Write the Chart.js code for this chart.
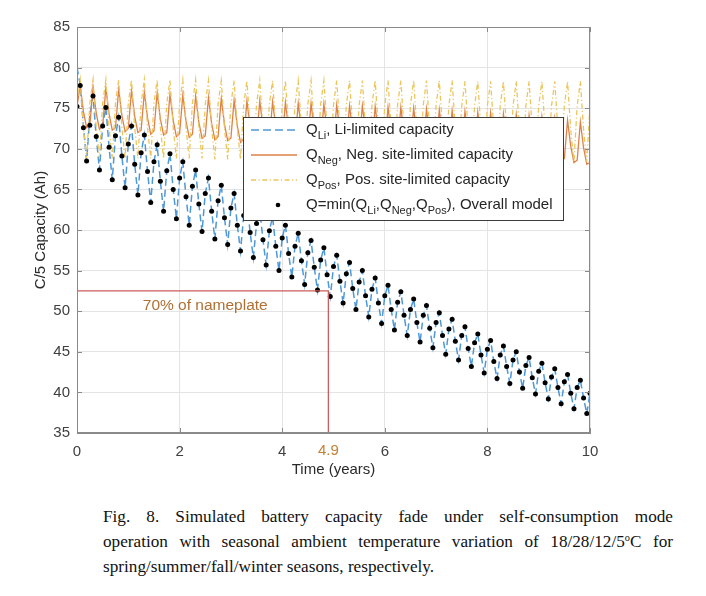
<!DOCTYPE html>
<html>
<head>
<meta charset="utf-8">
<script src="https://cdn.jsdelivr.net/npm/chart.js@4.4.1/dist/chart.umd.min.js"></script>
<style>
  html, body { margin: 0; padding: 0; background: #fff; }
  #wrap { position: absolute; left: 0; top: 0; width: 706px; height: 490px; }
  #cap { position: absolute; left: 103px; top: 504px; width: 570px;
         font-family: "Liberation Serif", "Times New Roman", serif; font-size: 17.2px;
         line-height: 25px; color: #111; }
  #cap .j { display: block; text-align: justify; text-align-last: justify; white-space: nowrap; }
  #cap .l { display: block; text-align: left; }
  #cap sup { font-size: 0.6em; vertical-align: 0.6em; line-height: 0; }
</style>
</head>
<body>
<div id="wrap"><canvas id="c" width="706" height="490"></canvas></div>
<div id="cap">
  <span class="j">Fig. 8. Simulated battery capacity fade under self-consumption mode</span>
  <span class="j">operation with seasonal ambient temperature variation of 18/28/12/5<sup>o</sup>C for</span>
  <span class="l">spring/summer/fall/winter seasons, respectively.</span>
</div>
<script>
// ---------------- data ----------------
const timeYears = [
0,0.0625,0.125,0.1875,0.25,0.3125,0.375,0.4375,0.5,0.5625,0.625,0.6875,0.75,0.8125,0.875,0.9375,
1,1.0625,1.125,1.1875,1.25,1.3125,1.375,1.4375,1.5,1.5625,1.625,1.6875,1.75,1.8125,1.875,1.9375,
2,2.0625,2.125,2.1875,2.25,2.3125,2.375,2.4375,2.5,2.5625,2.625,2.6875,2.75,2.8125,2.875,2.9375,
3,3.0625,3.125,3.1875,3.25,3.3125,3.375,3.4375,3.5,3.5625,3.625,3.6875,3.75,3.8125,3.875,3.9375,
4,4.0625,4.125,4.1875,4.25,4.3125,4.375,4.4375,4.5,4.5625,4.625,4.6875,4.75,4.8125,4.875,4.9375,
5,5.0625,5.125,5.1875,5.25,5.3125,5.375,5.4375,5.5,5.5625,5.625,5.6875,5.75,5.8125,5.875,5.9375,
6,6.0625,6.125,6.1875,6.25,6.3125,6.375,6.4375,6.5,6.5625,6.625,6.6875,6.75,6.8125,6.875,6.9375,
7,7.0625,7.125,7.1875,7.25,7.3125,7.375,7.4375,7.5,7.5625,7.625,7.6875,7.75,7.8125,7.875,7.9375,
8,8.0625,8.125,8.1875,8.25,8.3125,8.375,8.4375,8.5,8.5625,8.625,8.6875,8.75,8.8125,8.875,8.9375,
9,9.0625,9.125,9.1875,9.25,9.3125,9.375,9.4375,9.5,9.5625,9.625,9.6875,9.75,9.8125,9.875,9.9375,
10];

const qLi = [
80.0,77.9,72.8,68.5, 74.1,76.5,71.5,67.4, 72.8,75.1,70.2,66.2, 71.6,73.9,69.1,65.2,
70.6,72.8,68.1,64.3, 69.5,71.7,67.2,63.4, 68.4,70.5,66.0,62.3, 67.3,69.4,65.0,61.4,
66.4,68.4,64.1,60.6, 65.4,67.4,63.2,59.8, 64.5,66.4,62.3,58.9, 63.6,65.5,61.5,58.2,
62.7,64.5,60.6,57.4, 61.8,63.5,59.7,56.6, 60.8,62.5,58.8,55.7, 59.9,61.6,58.0,55.0,
59.0,60.6,57.1,54.2, 58.0,59.6,56.2,53.3, 57.2,58.7,55.4,52.6, 56.3,57.8,54.5,51.8,
55.5,56.9,53.7,51.0, 54.6,56.0,52.8,50.2, 53.6,55.0,51.9,49.3, 52.7,54.1,51.0,48.5,
51.9,53.2,50.2,47.7, 51.1,52.4,49.5,47.0, 50.2,51.5,48.6,46.2, 49.5,50.7,47.9,45.5,
48.6,49.8,47.0,44.7, 47.8,49.0,46.3,44.0, 47.0,48.1,45.4,43.2, 46.1,47.2,44.6,42.4,
45.3,46.4,43.8,41.7, 44.6,45.7,43.2,41.1, 44.0,45.0,42.5,40.5, 43.3,44.3,41.8,39.8,
42.6,43.6,41.2,39.2, 41.9,42.9,40.6,38.6, 41.3,42.2,39.9,38.0, 40.6,41.5,39.3,37.4,
39.9];

const qNeg = [
75.2,77.8,74.6,72.6, 72.9,77.6,74.4,72.4, 72.8,77.5,74.3,72.3, 72.6,77.3,74.1,72.1,
72.5,77.2,74.0,72.0, 72.3,77.0,73.8,71.8, 72.2,76.9,73.7,71.7, 72.0,76.7,73.5,71.5,
71.9,76.6,73.4,71.4, 71.8,76.5,73.3,71.3, 71.6,76.3,73.1,71.1, 71.5,76.2,73.0,71.0,
71.3,76.0,72.8,70.8, 71.2,75.9,72.7,70.7, 71.2,75.9,72.7,70.7, 71.1,75.8,72.6,70.6,
71.0,75.7,72.5,70.5, 70.9,75.6,72.4,70.4, 70.9,75.6,72.4,70.4, 70.8,75.5,72.3,70.3,
70.7,75.4,72.2,70.2, 70.6,75.3,72.1,70.1, 70.6,75.3,72.1,70.1, 70.5,75.2,72.0,70.0,
70.4,75.1,71.9,69.9, 70.4,75.1,71.9,69.9, 70.3,75.0,71.8,69.8, 70.2,74.9,71.7,69.7,
70.1,74.8,71.6,69.6, 70.0,74.7,71.5,69.5, 69.9,74.6,71.4,69.4, 69.8,74.5,71.3,69.3,
69.7,74.4,71.2,69.2, 69.6,74.3,71.1,69.1, 69.5,74.2,71.0,69.0, 69.4,74.1,70.9,68.9,
69.2,73.9,70.7,68.7, 69.0,73.7,70.5,68.5, 68.8,73.5,70.3,68.3, 68.6,73.3,70.1,68.1,
68.3];

const qPos = [
75.6,78.5,72.6,68.8, 75.6,78.5,72.6,68.8, 75.6,78.5,72.6,68.8, 75.6,78.5,72.6,68.8,
75.6,78.5,72.6,68.8, 75.6,78.5,72.6,68.8, 75.6,78.5,72.6,68.8, 75.6,78.5,72.6,68.8,
75.6,78.5,72.6,68.8, 75.6,78.5,72.6,68.8, 75.5,78.4,72.5,68.7, 75.5,78.4,72.5,68.7,
75.5,78.4,72.5,68.7, 75.5,78.4,72.5,68.7, 75.5,78.4,72.5,68.7, 75.5,78.4,72.5,68.7,
75.5,78.4,72.5,68.7, 75.5,78.4,72.5,68.7, 75.5,78.4,72.5,68.7, 75.5,78.4,72.5,68.7,
75.4,78.4,72.4,68.5, 75.4,78.4,72.4,68.5, 75.4,78.4,72.4,68.5, 75.4,78.4,72.4,68.5,
75.4,78.4,72.4,68.5, 75.4,78.4,72.4,68.5, 75.4,78.4,72.4,68.5, 75.4,78.4,72.4,68.5,
75.4,78.4,72.4,68.5, 75.4,78.4,72.4,68.5, 75.3,78.3,72.3,68.4, 75.3,78.3,72.3,68.4,
75.3,78.3,72.3,68.4, 75.3,78.3,72.3,68.4, 75.3,78.3,72.3,68.4, 75.3,78.3,72.3,68.4,
75.3,78.3,72.3,68.4, 75.3,78.3,72.3,68.4, 75.3,78.3,72.3,68.4, 75.3,78.3,72.3,68.4,
75.3];

const qOverall = [
75.2,77.8,72.6,68.5, 72.9,76.5,71.5,67.4, 72.8,75.1,70.2,66.2, 71.6,73.9,69.1,65.2,
70.6,72.8,68.1,64.3, 69.5,71.7,67.2,63.4, 68.4,70.5,66.0,62.3, 67.3,69.4,65.0,61.4,
66.4,68.4,64.1,60.6, 65.4,67.4,63.2,59.8, 64.5,66.4,62.3,58.9, 63.6,65.5,61.5,58.2,
62.7,64.5,60.6,57.4, 61.8,63.5,59.7,56.6, 60.8,62.5,58.8,55.7, 59.9,61.6,58.0,55.0,
59.0,60.6,57.1,54.2, 58.0,59.6,56.2,53.3, 57.2,58.7,55.4,52.6, 56.3,57.8,54.5,51.8,
55.5,56.9,53.7,51.0, 54.6,56.0,52.8,50.2, 53.6,55.0,51.9,49.3, 52.7,54.1,51.0,48.5,
51.9,53.2,50.2,47.7, 51.1,52.4,49.5,47.0, 50.2,51.5,48.6,46.2, 49.5,50.7,47.9,45.5,
48.6,49.8,47.0,44.7, 47.8,49.0,46.3,44.0, 47.0,48.1,45.4,43.2, 46.1,47.2,44.6,42.4,
45.3,46.4,43.8,41.7, 44.6,45.7,43.2,41.1, 44.0,45.0,42.5,40.5, 43.3,44.3,41.8,39.8,
42.6,43.6,41.2,39.2, 41.9,42.9,40.6,38.6, 41.3,42.2,39.9,38.0, 40.6,41.5,39.3,37.4,
39.9];

const xTickValues = [0, 2, 4, 6, 8, 10];
const yTickValues = [35, 40, 45, 50, 55, 60, 65, 70, 75, 80, 85];
const nameplateTimes = [0, 4.9, 4.9];
const nameplateCaps = [52.5, 52.5, 35];
const nameplateText = "70% of nameplate";
const nameplateTextAt = [2.5, 50.7];
const crossLabel = "4.9";
const xTitle = "Time (years)";
const yTitle = "C/5 Capacity (Ah)";
const legendRows = [
  [["Q"], ["Li", 1], [", Li-limited capacity"]],
  [["Q"], ["Neg", 1], [", Neg. site-limited capacity"]],
  [["Q"], ["Pos", 1], [", Pos. site-limited capacity"]],
  [["Q=min(Q"], ["Li", 1], [",Q"], ["Neg", 1], [",Q"], ["Pos", 1], ["), Overall model"]]
];

// ---------------- styles ----------------
const FONT = "'Liberation Sans', Arial, Helvetica, sans-serif";
const C_LI = "rgb(78,152,216)";
const C_NEG = "rgb(222,128,72)";
const C_POS = "rgb(236,198,92)";
const C_RED = "rgb(205,92,92)";
const C_AXIS = "#8a8a8a";
const styles = [
  { color: C_LI, dash: [8, 4], width: 1.6 },
  { color: C_NEG, dash: [], width: 1.3 },
  { color: C_POS, dash: [5, 2.5, 1.2, 2.5], width: 1.3 },
  { color: "#000", dot: true }
];

const pts = (xs, ys) => xs.map((x, i) => ({ x: x, y: ys[i] }));

const frame = {
  id: "frame",
  afterDatasetsDraw(chart) {
    const { ctx, chartArea: a, scales: { x, y } } = chart;
    ctx.save();
    ctx.fillStyle = "rgb(176,112,52)";
    ctx.font = "15.5px " + FONT;
    ctx.textAlign = "center"; ctx.textBaseline = "middle";
    ctx.fillText(nameplateText, x.getPixelForValue(nameplateTextAt[0]), y.getPixelForValue(nameplateTextAt[1]));
    ctx.fillStyle = "rgb(196,128,52)";
    ctx.font = "15px " + FONT;
    ctx.fillText(crossLabel, x.getPixelForValue(nameplateTimes[1]), a.bottom + 18);

    ctx.strokeStyle = C_AXIS; ctx.lineWidth = 1;
    ctx.strokeRect(a.left + 0.5, a.top + 0.5, a.right - a.left - 1, a.bottom - a.top - 1);
    ctx.beginPath();
    xTickValues.forEach(v => {
      const px = Math.round(x.getPixelForValue(v)) + 0.5;
      ctx.moveTo(px, a.bottom); ctx.lineTo(px, a.bottom - 5);
      ctx.moveTo(px, a.top); ctx.lineTo(px, a.top + 5);
    });
    yTickValues.forEach(v => {
      const py = Math.round(y.getPixelForValue(v)) + 0.5;
      ctx.moveTo(a.left, py); ctx.lineTo(a.left + 5, py);
      ctx.moveTo(a.right, py); ctx.lineTo(a.right - 5, py);
    });
    ctx.stroke();

    const L = a.left + 166, T = a.top + 90, W = 320, H = 103;
    ctx.fillStyle = "#fff";
    ctx.fillRect(L, T, W, H);
    ctx.strokeStyle = "#3c3c3c"; ctx.lineWidth = 1;
    ctx.strokeRect(L + 0.5, T + 0.5, W, H);
    legendRows.forEach((row, i) => {
      const ry = T + 13 + i * 25;
      const st = styles[i];
      if (st.dot) {
        ctx.fillStyle = "#000";
        ctx.beginPath(); ctx.arc(L + 35, ry, 2.3, 0, Math.PI * 2); ctx.fill();
      } else {
        ctx.strokeStyle = st.color; ctx.lineWidth = st.width; ctx.setLineDash(st.dash);
        ctx.beginPath(); ctx.moveTo(L + 8, ry); ctx.lineTo(L + 54, ry); ctx.stroke();
        ctx.setLineDash([]);
      }
      let tx = L + 63;
      ctx.fillStyle = "#262626";
      ctx.textAlign = "left"; ctx.textBaseline = "middle";
      row.forEach(part => {
        if (part[1]) {
          ctx.font = "11px " + FONT;
          ctx.fillText(part[0], tx, ry + 5.5);
        } else {
          ctx.font = "15px " + FONT;
          ctx.fillText(part[0], tx, ry);
        }
        tx += ctx.measureText(part[0]).width;
      });
    });
    ctx.restore();
  }
};

new Chart(document.getElementById("c"), {
  type: "line",
  data: {
    datasets: [
      { label: "nameplate", data: pts(nameplateTimes, nameplateCaps), borderColor: C_RED, borderWidth: 1.3,
        pointRadius: 0, fill: false, tension: 0 },
      { label: "Q overall", data: pts(timeYears, qOverall), showLine: false, pointRadius: 2.5,
        pointBackgroundColor: "#000", pointBorderWidth: 0, borderColor: "#000" },
      { label: "Q Pos", data: pts(timeYears, qPos), borderColor: C_POS, borderWidth: 1.3,
        borderDash: [5, 2.5, 1.2, 2.5], pointRadius: 0, fill: false, tension: 0 },
      { label: "Q Neg", data: pts(timeYears, qNeg), borderColor: C_NEG, borderWidth: 1.3,
        pointRadius: 0, fill: false, tension: 0 },
      { label: "Q Li", data: pts(timeYears, qLi), borderColor: C_LI, borderWidth: 1.5,
        borderDash: [7, 4], pointRadius: 0, fill: false, tension: 0 }
    ]
  },
  options: {
    responsive: false,
    animation: false,
    events: [],
    layout: { padding: { left: 0, right: 116, top: 27, bottom: 0 } },
    plugins: { legend: { display: false }, tooltip: { enabled: false } },
    scales: {
      x: {
        type: "linear", min: 0, max: 10,
        afterBuildTicks: s => { s.ticks = xTickValues.map(v => ({ value: v })); },
        afterFit: s => { s.height = 57; },
        grid: { color: "#e4e4e4", drawTicks: false },
        border: { color: C_AXIS },
        ticks: { padding: 10, color: "#404040", font: { size: 15, family: FONT } },
        title: { display: true, text: xTitle, color: "#2a2a2a", font: { size: 15, family: FONT },
                 padding: { top: 0, bottom: 11 } }
      },
      y: {
        type: "linear", min: 35, max: 85,
        afterBuildTicks: s => { s.ticks = yTickValues.map(v => ({ value: v })); },
        afterFit: s => { s.width = 77; },
        grid: { color: "#e4e4e4", drawTicks: false },
        border: { color: C_AXIS },
        ticks: { padding: 7, color: "#404040", font: { size: 15, family: FONT } },
        title: { display: true, text: yTitle, color: "#2a2a2a", font: { size: 15, family: FONT },
                 padding: { top: 32, bottom: 0 } }
      }
    }
  },
  plugins: [frame]
});
</script>
</body>
</html>
